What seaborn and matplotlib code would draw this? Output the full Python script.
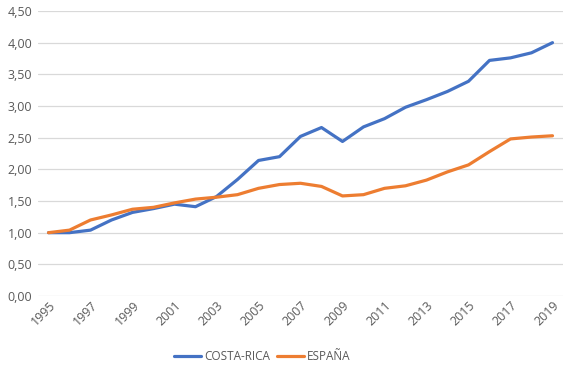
import matplotlib
matplotlib.use("Agg")
import matplotlib.pyplot as plt
import matplotlib.ticker as mticker
import seaborn as sns
import pandas as pd

years = list(range(1995, 2020))
costa_rica = [1.00, 1.00, 1.04, 1.20, 1.32, 1.38, 1.45, 1.41, 1.57, 1.84, 2.14, 2.20,
              2.52, 2.66, 2.44, 2.67, 2.80, 2.98, 3.10, 3.23, 3.39, 3.72, 3.76, 3.84, 4.00]
espana = [1.00, 1.04, 1.20, 1.28, 1.37, 1.40, 1.47, 1.53, 1.56, 1.60, 1.70, 1.76,
          1.78, 1.73, 1.58, 1.60, 1.70, 1.74, 1.83, 1.96, 2.07, 2.28, 2.48, 2.51, 2.53]
series_names = ["COSTA-RICA", "ESPAÑA"]
colors = ["#4472C4", "#ED7D31"]
x_tick_labels = [str(y) for y in range(1995, 2020, 2)]

df = pd.DataFrame({
    "year": years * 2,
    "value": costa_rica + espana,
    "series": [series_names[0]] * len(years) + [series_names[1]] * len(years),
})

sns.set_theme(style="white")
plt.rcParams["font.family"] = ["Open Sans", "DejaVu Sans"]

fig = plt.figure(figsize=(5.71, 3.66), dpi=100)
ax = fig.add_axes([38 / 571, 70 / 366, 525 / 571, 285 / 366])

sns.lineplot(data=df, x="year", y="value", hue="series", palette=colors,
             linewidth=2.3, ax=ax, legend=True)

ax.set_xlim(1994.5, 2019.5)
ax.set_ylim(0, 4.5)
ax.yaxis.set_major_locator(mticker.MultipleLocator(0.5))
ax.yaxis.set_major_formatter(mticker.FuncFormatter(lambda v, p: f"{v:.2f}".replace(".", ",")))
ax.set_xticks([int(t) for t in x_tick_labels])
ax.set_xticklabels(x_tick_labels, rotation=45, ha="right", rotation_mode="anchor")
ax.grid(axis="y", color="#D9D9D9", linewidth=0.9)
ax.set_axisbelow(True)
for s in ax.spines.values():
    s.set_visible(False)
ax.tick_params(axis="both", length=0, labelsize=9, labelcolor="#595959", pad=4)
ax.tick_params(axis="x", pad=2)
ax.set_xlabel("")
ax.set_ylabel("")

handles, labels = ax.get_legend_handles_labels()
ax.legend(handles, labels, loc="center", bbox_to_anchor=(262 / 571, 9 / 366),
          bbox_transform=fig.transFigure, ncol=2, frameon=False, fontsize=8.5,
          labelcolor="#595959", handlelength=2.3, handletextpad=0.25, columnspacing=0.6,
          borderaxespad=0.0, borderpad=0.0)

fig.savefig("out.png", dpi=100)
